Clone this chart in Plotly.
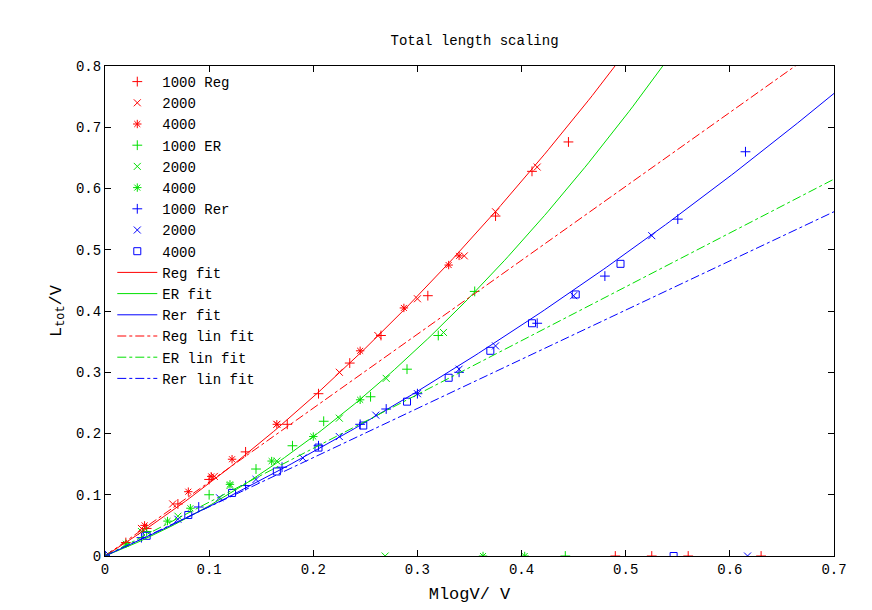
import numpy as np
import plotly.graph_objects as go

# measured points: (x, y) per series
reg1000_x = [0, 0.02, 0.04, 0.07, 0.1, 0.135, 0.175, 0.205, 0.235, 0.265, 0.31, 0.375, 0.41, 0.445, 0.49, 0.525, 0.56, 0.63]
reg1000_y = [0, 0.022, 0.045, 0.085, 0.125, 0.17, 0.215, 0.265, 0.315, 0.36, 0.425, 0.555, 0.628, 0.676, 0, 0, 0, 0]
reg2000_x = [0.003, 0.035, 0.065, 0.105, 0.165, 0.225, 0.262, 0.3, 0.345, 0.375, 0.415]
reg2000_y = [0.003, 0.045, 0.085, 0.13, 0.215, 0.3, 0.36, 0.42, 0.49, 0.562, 0.635]
reg4000_x = [0, 0.038, 0.08, 0.102, 0.122, 0.165, 0.245, 0.287, 0.33, 0.34]
reg4000_y = [0, 0.05, 0.105, 0.13, 0.158, 0.215, 0.335, 0.405, 0.475, 0.49]

er1000_x = [0, 0.04, 0.1, 0.145, 0.18, 0.21, 0.255, 0.29, 0.32, 0.355, 0.442]
er1000_y = [0, 0.04, 0.1, 0.142, 0.18, 0.22, 0.26, 0.305, 0.36, 0.432, 0]
er2000_x = [0, 0.035, 0.07, 0.12, 0.165, 0.225, 0.27, 0.325, 0.269]
er2000_y = [0, 0.04, 0.065, 0.115, 0.155, 0.225, 0.29, 0.365, 0]
er4000_x = [0, 0.02, 0.06, 0.082, 0.12, 0.16, 0.2, 0.245, 0.363, 0.403]
er4000_y = [0, 0.02, 0.057, 0.078, 0.117, 0.155, 0.195, 0.255, 0, 0]

rer1000_x = [0, 0.035, 0.09, 0.135, 0.17, 0.205, 0.245, 0.27, 0.3, 0.34, 0.415, 0.48, 0.55, 0.615]
rer1000_y = [0, 0.03, 0.08, 0.115, 0.145, 0.18, 0.215, 0.24, 0.265, 0.3, 0.38, 0.457, 0.55, 0.66]
rer2000_x = [0.003, 0.07, 0.11, 0.145, 0.19, 0.225, 0.26, 0.3, 0.34, 0.375, 0.45, 0.525, 0.617]
rer2000_y = [0.003, 0.06, 0.095, 0.125, 0.16, 0.195, 0.23, 0.265, 0.305, 0.343, 0.425, 0.523, 0]
rer4000_x = [0.04, 0.08, 0.122, 0.165, 0.205, 0.248, 0.29, 0.33, 0.37, 0.41, 0.452, 0.495, 0.546]
rer4000_y = [0.033, 0.067, 0.103, 0.138, 0.177, 0.213, 0.252, 0.291, 0.335, 0.38, 0.427, 0.477, 0]

# fit coefficients y = a*x + b*x^2
reg_fit = (1.07, 1.147)
er_fit = (0.666, 1.543)
rer_fit = (0.759, 0.457)
# linear fit slopes
reg_lin, er_lin, rer_lin = 1.207, 0.879, 0.803

RED, GREEN, BLUE = "#ff0000", "#00e000", "#0000ff"
fig = go.Figure()

def pts(x, y, name, color, symbol, size=7):
    fig.add_trace(go.Scatter(x=x, y=y, mode="markers", name=name,
                             marker=dict(symbol=symbol, color=color, size=size,
                                         line=dict(color=color, width=1))))

pts(reg1000_x, reg1000_y, "1000 Reg", RED, "cross-thin")
pts(reg2000_x, reg2000_y, "2000", RED, "x-thin")
pts(reg4000_x, reg4000_y, "4000", RED, "asterisk")
pts(er1000_x, er1000_y, "1000 ER", GREEN, "cross-thin")
pts(er2000_x, er2000_y, "2000", GREEN, "x-thin")
pts(er4000_x, er4000_y, "4000", GREEN, "asterisk")
pts(rer1000_x, rer1000_y, "1000 Rer", BLUE, "cross-thin")
pts(rer2000_x, rer2000_y, "2000", BLUE, "x-thin")
pts(rer4000_x, rer4000_y, "4000", BLUE, "square-open")

xs = np.linspace(0, 0.7, 200)
for (a, b), name, c in [(reg_fit, "Reg fit", RED), (er_fit, "ER fit", GREEN), (rer_fit, "Rer fit", BLUE)]:
    fig.add_trace(go.Scatter(x=xs, y=a * xs + b * xs ** 2, mode="lines", name=name,
                             line=dict(color=c, width=1)))
for s, name, c in [(reg_lin, "Reg lin fit", RED), (er_lin, "ER lin fit", GREEN), (rer_lin, "Rer lin fit", BLUE)]:
    fig.add_trace(go.Scatter(x=xs, y=s * xs, mode="lines", name=name,
                             line=dict(color=c, width=1, dash="dashdot")))

axis = dict(showgrid=False, zeroline=False, showline=True, linecolor="black", linewidth=1,
            mirror="allticks", ticks="inside", ticklen=6, tickcolor="black",
            tickfont=dict(size=14), automargin=False)
fig.update_layout(
    width=872, height=610, plot_bgcolor="white", paper_bgcolor="white",
    font=dict(family="Liberation Mono, monospace", size=14, color="black"),
    margin=dict(l=97, r=46, t=58, b=62),
    title=dict(text="Total length scaling", x=0.535, xanchor="center", y=0.955, font=dict(size=14)),
    xaxis=dict(axis, range=[0, 0.7], dtick=0.1, title=dict(text="MlogV/ V", standoff=10)),
    yaxis=dict(axis, range=[0, 0.8], dtick=0.1, title=dict(text="L<sub>tot</sub>/V", standoff=10)),
    legend=dict(x=0.01, y=1.0, bgcolor="rgba(0,0,0,0)", tracegroupgap=0,
                font=dict(size=14), itemwidth=40),
)
fig.write_html("out.html")
